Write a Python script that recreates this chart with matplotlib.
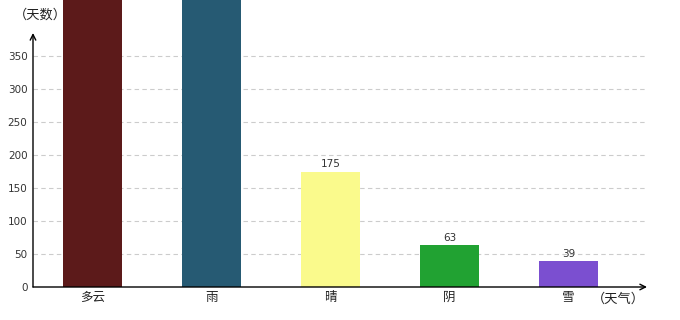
import matplotlib
matplotlib.use("Agg")
import matplotlib.pyplot as plt
import numpy as np

plt.rcParams['font.family'] = ['Noto Sans CJK SC', 'DejaVu Sans']

categories = ['多云', '雨', '晴', '阴', '雪']
values = [520, 460, 175, 63, 39]
colors = ['#5c1a1a', '#265a73', '#fafa8c', '#21a232', '#7b4fd0']
yticks = [0, 50, 100, 150, 200, 250, 300, 350]

W, H = 680, 320
fig = plt.figure(figsize=(W / 100, H / 100), dpi=100)
x0, x1, y0, y1 = 33, 647, 287, 0
ax = fig.add_axes([x0 / W, (H - y0) / H, (x1 - x0) / W, (y0 - y1) / H])
ax.set_xlim(-0.5, (x1 - x0) / 119 - 0.5)
ymax = 287 / 0.66
ax.set_ylim(0, ymax)

xs = np.arange(len(categories))
bars = ax.bar(xs, values, width=0.5, color=colors, zorder=3)
for xv, v in zip(xs, values):
    if v + 20 < ymax:
        ax.text(xv, v + 4, str(v), ha='center', va='bottom', fontsize=7.5,
                color='#333333', family='DejaVu Sans')

for t in yticks[1:]:
    ax.axhline(t, color='#cccccc', lw=0.8, ls=(0, (4, 3)), zorder=1)

for s in ax.spines.values():
    s.set_visible(False)
ax.set_xticks(xs)
ax.set_xticklabels(categories, fontsize=9, color='#222222')
ax.set_yticks(yticks)
ax.set_yticklabels([str(t) for t in yticks], fontsize=7.5, color='#333333', family='DejaVu Sans')
ax.tick_params(length=0, pad=3)
ax.tick_params(axis='y', pad=4)

# axes with arrows
ax.annotate('', xy=(x0, H - 33), xytext=(x0, H - y0), xycoords='figure pixels',
            arrowprops=dict(arrowstyle='->', color='black', lw=1, shrinkA=0, shrinkB=0))
ax.annotate('', xy=(x1, H - y0), xytext=(x0, H - y0), xycoords='figure pixels',
            arrowprops=dict(arrowstyle='->', color='black', lw=1, shrinkA=0, shrinkB=0))

fig.text(40 / W, 1 - 15 / H, '（天数）', ha='center', va='center', fontsize=9.5, color='#222222')
fig.text(618 / W, 1 - 299 / H, '（天气）', ha='center', va='center', fontsize=9.5, color='#222222')

fig.savefig('out.png', dpi=100)
